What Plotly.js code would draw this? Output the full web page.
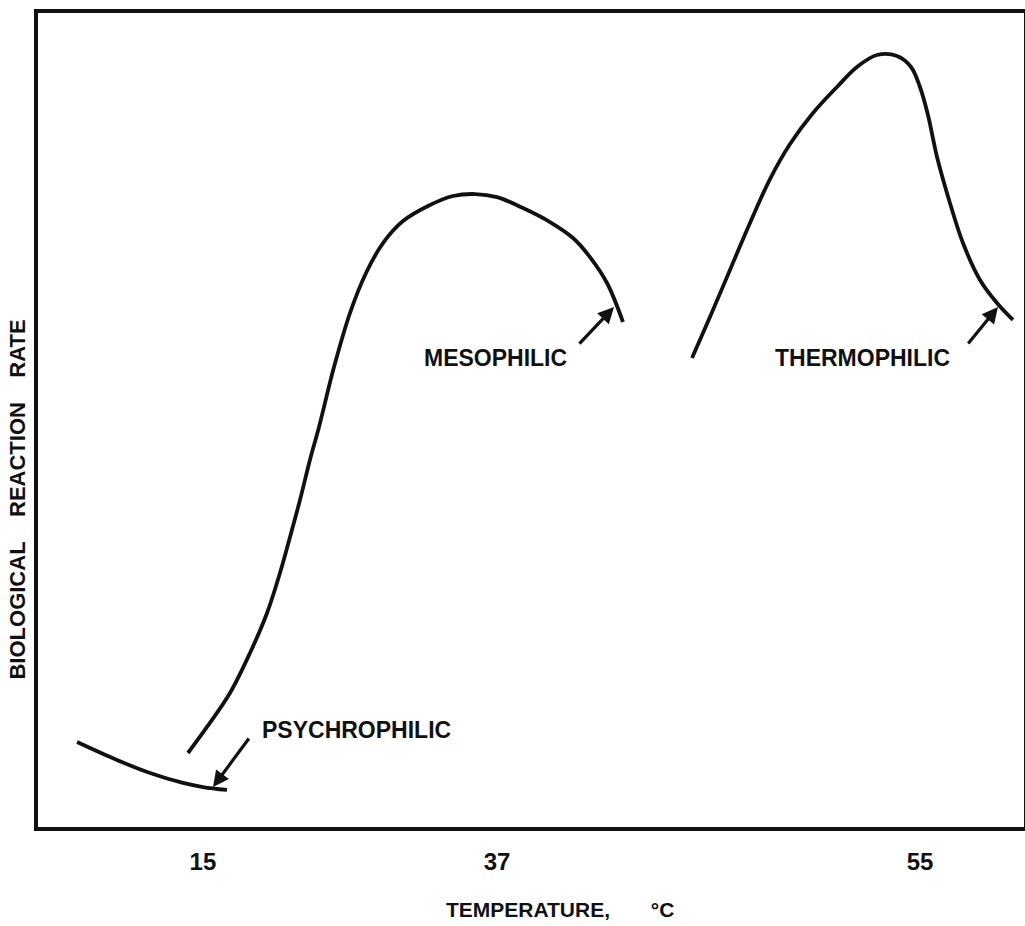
<!DOCTYPE html>
<html>
<head>
<meta charset="utf-8">
<script src="https://cdn.plot.ly/plotly-3.0.1.min.js"></script>
<style>html,body{margin:0;padding:0;background:#fff;}#chart{width:1025px;height:926px;}</style>
</head>
<body>
<div id="chart"></div>
<script>
// Horizontal position along the (schematic, non-linear) temperature axis, 0-100
const xTickVals = [16.73, 46.55, 89.45];
const xTickText = ['15', '37', '55'];

// Psychrophilic curve
const psychroX = [3.96, 8.01, 11.36, 14.71, 16.73, 19.17];
const psychroY = [10.44, 8.23, 6.63, 5.41, 4.91, 4.55];

// Mesophilic curve
const mesoX = [15.21, 17.14, 19.47, 21.50, 23.23, 24.54, 25.56, 26.57, 27.58, 28.50, 30.02, 31.64, 33.27, 34.99, 37.02, 39.76, 42.09, 44.32, 46.55, 49.19, 51.93, 54.26, 55.98, 57.71, 59.33];
const mesoY = [9.09, 12.29, 16.46, 21.38, 26.29, 31.20, 35.63, 40.17, 45.09, 49.14, 56.51, 63.14, 68.06, 71.74, 74.44, 76.41, 77.52, 77.76, 77.39, 76.04, 74.32, 72.36, 70.02, 66.83, 62.04];

// Thermophilic curve
const thermoX = [66.33, 68.15, 70.18, 72.21, 74.24, 76.27, 78.60, 81.03, 83.06, 85.09, 87.12, 88.54, 89.45, 90.26, 91.18, 92.49, 93.81, 95.54, 97.26, 98.88];
const thermoY = [57.62, 62.65, 68.43, 74.20, 79.60, 83.90, 87.71, 90.91, 93.37, 94.84, 94.72, 93.37, 90.91, 87.47, 82.31, 76.66, 71.74, 67.20, 64.37, 62.29];

// Labels
const labelText = ['PSYCHROPHILIC', 'MESOPHILIC', 'THERMOPHILIC'];
const labelX = [32.35, 46.35, 83.57];
const labelY = [11.92, 57.62, 57.62];
// Pointer arrows (head / tail)
const arrowHeadX = [17.75, 58.42, 97.36];
const arrowHeadY = [4.91, 63.88, 63.88];
const arrowTailX = [21.50, 54.77, 94.22];
const arrowTailY = [11.06, 59.21, 59.21];

const ink = '#111111';
const lineStyle = {color: ink, width: 3.8, shape: 'spline', smoothing: 1.0};

const traces = [
  {x: psychroX, y: psychroY, mode: 'lines', line: lineStyle, hoverinfo: 'skip', name: 'Psychrophilic'},
  {x: mesoX, y: mesoY, mode: 'lines', line: lineStyle, hoverinfo: 'skip', name: 'Mesophilic'},
  {x: thermoX, y: thermoY, mode: 'lines', line: lineStyle, hoverinfo: 'skip', name: 'Thermophilic'}
];

const font = {family: '"Liberation Sans", Arial, sans-serif', color: ink, weight: 700};

const annotations = [];
for (let i = 0; i < labelText.length; i++) {
  annotations.push({
    x: labelX[i], y: labelY[i], xref: 'x', yref: 'y', text: labelText[i], showarrow: false,
    font: Object.assign({}, font, {size: 23})
  });
  annotations.push({
    x: arrowHeadX[i], y: arrowHeadY[i], ax: arrowTailX[i], ay: arrowTailY[i],
    xref: 'x', yref: 'y', axref: 'x', ayref: 'y', text: '', showarrow: true,
    arrowhead: 2, arrowsize: 1, arrowwidth: 3.2, arrowcolor: ink
  });
}

const sp = (n) => '&nbsp;'.repeat(n);

const layout = {
  width: 1025, height: 926,
  margin: {l: 38, r: 1, t: 13, b: 99},
  paper_bgcolor: '#ffffff', plot_bgcolor: '#ffffff',
  showlegend: false,
  xaxis: {
    range: [0, 100], showgrid: false, zeroline: false,
    showline: true, mirror: true, linewidth: 3.8, linecolor: ink,
    tickmode: 'array', tickvals: xTickVals, ticktext: xTickText,
    ticks: 'outside', ticklen: 10, tickcolor: 'rgba(0,0,0,0)',
    tickfont: Object.assign({}, font, {size: 24}),
    title: {text: sp(10) + 'TEMPERATURE,' + sp(7) + '°C', standoff: 30, font: Object.assign({}, font, {size: 21})}
  },
  yaxis: {
    range: [0, 100], showgrid: false, zeroline: false,
    showline: true, mirror: true, linewidth: 3.8, linecolor: ink,
    showticklabels: false, ticks: '',
    title: {text: 'BIOLOGICAL' + sp(4) + 'REACTION' + sp(4) + 'RATE' + sp(26), standoff: 3, font: Object.assign({}, font, {size: 22})}
  },
  annotations: annotations
};

Plotly.newPlot('chart', traces, layout, {displayModeBar: false, staticPlot: true});
</script>
</body>
</html>
